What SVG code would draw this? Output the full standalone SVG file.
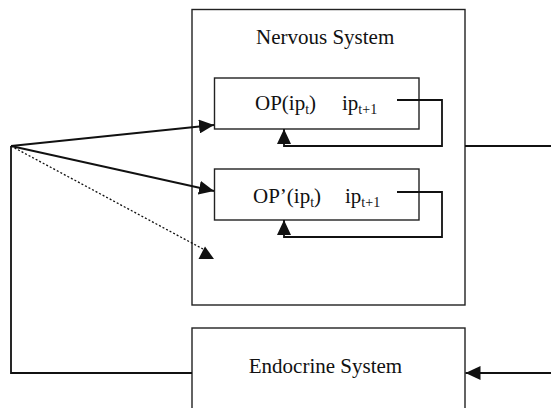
<svg xmlns="http://www.w3.org/2000/svg" width="551" height="408" viewBox="0 0 551 408">
<style>
.box{fill:#fff;stroke:#222;stroke-width:1.4}
.ln{fill:none;stroke:#111;stroke-width:1.8}
.t{font-family:"Liberation Serif","Times New Roman",serif;font-size:21px;fill:#111}
.s{font-size:14px}
</style>
<defs>
<marker id="ah" markerUnits="userSpaceOnUse" markerWidth="15" markerHeight="14" refX="15" refY="7" orient="auto">
<path d="M0,0 L15,7 L0,14 z" fill="#111"/>
</marker>
</defs>
<rect width="551" height="408" fill="#fff"/>
<g id="nervous">
<rect class="box" x="192" y="9.5" width="273" height="295.5"/>
<text class="t" x="256" y="44">Nervous System</text>
</g>
<g id="op1">
<rect class="box" x="214.5" y="78" width="204.5" height="51"/>
<text class="t" x="255" y="110">OP(ip<tspan class="s" dy="4">t</tspan><tspan dy="-4">)</tspan></text>
<text class="t" x="342" y="110">ip<tspan class="s" dy="4">t+1</tspan></text>
</g>
<g id="op2">
<rect class="box" x="214.5" y="169" width="204.5" height="51"/>
<text class="t" x="253" y="203">OP’(ip<tspan class="s" dy="4">t</tspan><tspan dy="-4">)</tspan></text>
<text class="t" x="345" y="203">ip<tspan class="s" dy="4">t+1</tspan></text>
</g>
<g id="endocrine">
<rect class="box" x="192" y="328" width="273" height="100"/>
<text class="t" x="325.5" y="373" text-anchor="middle">Endocrine System</text>
</g>
<g id="connectors">
<line class="ln" x1="11" y1="146" x2="214" y2="125" marker-end="url(#ah)"/>
<line class="ln" x1="11" y1="146" x2="214" y2="191" marker-end="url(#ah)"/>
<line x1="11" y1="146" x2="203" y2="249" stroke="#111" stroke-width="1.3" stroke-dasharray="2,2"/>
<polygon points="205,246.5 198.5,259 214,259" fill="#111"/>
<polyline class="ln" points="397,100 442,100 442,146 284,146 284,129" marker-end="url(#ah)"/>
<polyline class="ln" points="397,192 442,192 442,237 284,237 284,220" marker-end="url(#ah)"/>
<line class="ln" x1="465" y1="146" x2="551" y2="146"/>
<polyline class="ln" points="11,146 11,373 192,373" stroke-width="1.4"/>
<line class="ln" x1="551" y1="373" x2="465.5" y2="373" marker-end="url(#ah)"/>
</g>
</svg>
